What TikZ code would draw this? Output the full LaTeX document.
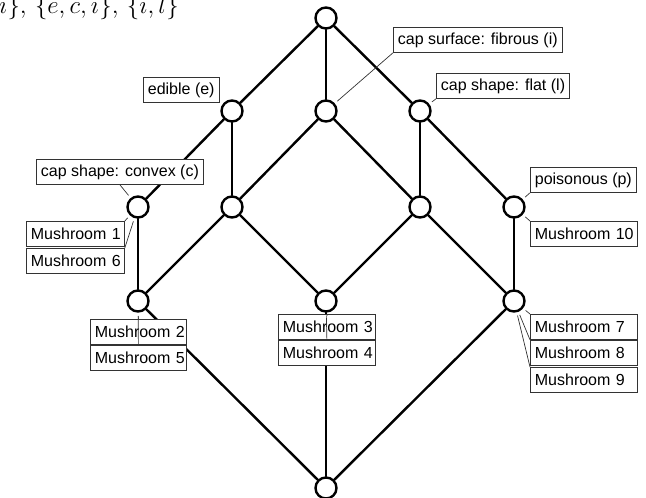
\documentclass[tikz,border=0pt]{standalone}
\usepackage{fontspec}
\setmainfont{Liberation Sans}
\usetikzlibrary{calc,backgrounds}
\begin{document}
\begin{tikzpicture}[x=1pt,y=-1pt,
  vtx/.style={circle,draw=black,fill=white,line width=2.4pt,minimum size=21pt,inner sep=0pt},
  edge/.style={line width=2.4pt,line cap=round},
  lbl/.style={draw=black!80,fill=white,line width=0.8pt,inner xsep=4.5pt,inner ysep=0pt,
              minimum height=25pt,anchor=north west,
              font=\fontsize{16}{19}\selectfont},
  obj/.style={lbl,text width=#1,align=left},
  conn/.style={draw=black!80,line width=0.7pt}]
\useasboundingbox (0,0) rectangle (646,498);
\clip (0,0) rectangle (646,498);

% running text above the lattice
\node[anchor=base west,inner sep=0pt,font=\fontsize{24.88}{28}\selectfont] (sets) at (-1,13)
  {$i\},\,\{e,c,i\},\,\{i,l\}$};

% concept nodes
\node[vtx] (T)   at (326,18)  {};
\node[vtx] (E)   at (232,111) {};
\node[vtx] (F)   at (326,111) {};
\node[vtx] (L)   at (420,111) {};
\node[vtx] (C)   at (138,207) {};
\node[vtx] (A)   at (232,207) {};
\node[vtx] (B)   at (420,207) {};
\node[vtx] (P)   at (514,207) {};
\node[vtx] (X)   at (138,301) {};
\node[vtx] (Y)   at (326,301) {};
\node[vtx] (Z)   at (514,301) {};
\node[vtx] (Bot) at (326,488) {};

% lattice edges
\begin{scope}[on background layer]
  \draw[edge] (T) -- (E);  \draw[edge] (T) -- (F);  \draw[edge] (T) -- (L);
  \draw[edge] (E) -- (C);  \draw[edge] (E) -- (A);
  \draw[edge] (F) -- (A);  \draw[edge] (F) -- (B);
  \draw[edge] (L) -- (B);  \draw[edge] (L) -- (P);
  \draw[edge] (C) -- (X);
  \draw[edge] (A) -- (X);  \draw[edge] (A) -- (Y);
  \draw[edge] (B) -- (Y);  \draw[edge] (B) -- (Z);
  \draw[edge] (P) -- (Z);
  \draw[edge] (X) -- (Bot); \draw[edge] (Y) -- (Bot); \draw[edge] (Z) -- (Bot);
\end{scope}

% attribute labels
\node[lbl] (edi) at (143,77)  {edible (e)};
\node[lbl] (cvx) at (36,159)  {cap shape: convex (c)};
\node[lbl] (fib) at (393,27)  {cap surface: fibrous (i)};
\node[lbl] (flt) at (436,73)  {cap shape: flat (l)};
\node[lbl] (poi) at (530,167) {poisonous (p)};

% object labels
\node[obj=89pt] (m1) at (26,221) {Mushroom~1};
\node[obj=89pt] (m6) at (26,248) {Mushroom~6};
\node[obj=87pt] (m2) at (90,319) {Mushroom~2};
\node[obj=87pt] (m5) at (m2.south west) {Mushroom~5};
\node[obj=88pt] (m3) at (278,314) {Mushroom~3};
\node[obj=88pt] (m4) at (m3.south west) {Mushroom~4};
\node[obj=98pt] (m10) at (530,221) {Mushroom~10};
\node[obj=98pt] (m7) at (530,314) {Mushroom~7};
\node[obj=98pt] (m8) at (m7.south west) {Mushroom~8};
\node[obj=98pt] (m9) at (530,367) {Mushroom~9};

% label leaders
\draw[conn] ($(C)!15pt!(cvx.south)$) -- (cvx.south);
\draw[conn] ($(F)!15pt!(fib.south west)$) -- (fib.south west);
\draw[conn] ($(L)!15pt!(flt.south west)$) -- (flt.south west);
\draw[conn] ($(P)!15pt!(poi.south west)$) -- (poi.south west);
\draw[conn] ($(P)!15pt!(m10.north west)$) -- (m10.north west);
\draw[conn] ($(C)!15pt!(m1.north east)$) -- (m1.north east);
\draw[conn] ($(C)!15pt!(m6.north east)$) -- (m6.north east);
\draw[conn] ($(X)!15pt!(m2.north)$) -- (m2.north);
\draw[conn] ($(X)!15pt!(m5.north)$) -- (m5.north);
\draw[conn] ($(Y)!15pt!(m3.north)$) -- (m3.north);
\draw[conn] ($(Y)!15pt!(m4.north)$) -- (m4.north);
\draw[conn] ($(Z)!15pt!(m7.north west)$) -- (m7.north west);
\draw[conn] ($(Z)!15pt!(m8.north west)$) -- (m8.north west);
\draw[conn] ($(Z)!15pt!(m9.north west)$) -- (m9.north west);
\end{tikzpicture}
\end{document}
